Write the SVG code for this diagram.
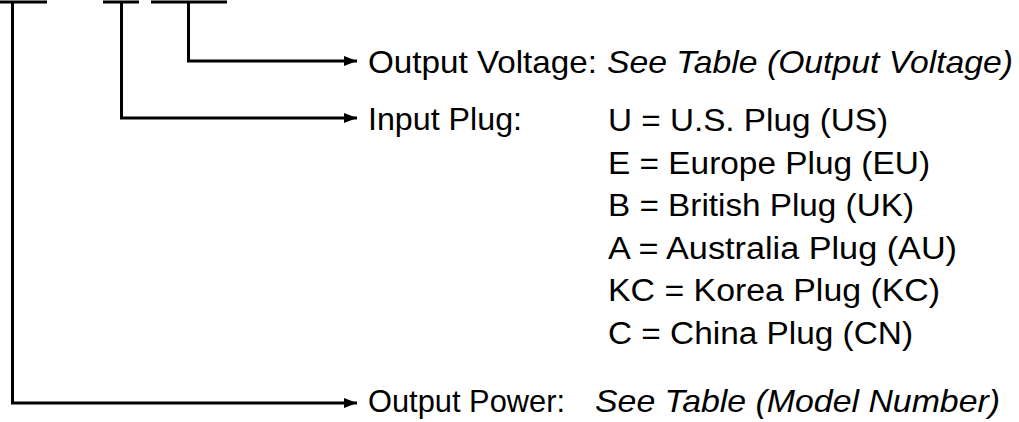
<svg xmlns="http://www.w3.org/2000/svg" width="1019" height="422" viewBox="0 0 1019 422">
<style>
.ln{fill:none;stroke:#000;stroke-width:3;stroke-linejoin:miter}
.t{font-family:"Liberation Sans",Arial,sans-serif;font-size:32px;fill:#000}
.p{font-family:"Liberation Sans",Arial,sans-serif;font-size:31px;fill:#000}
.i{font-style:italic}
</style>
<defs>
<marker id="ah" markerWidth="13" markerHeight="10" refX="13" refY="5" orient="auto" markerUnits="userSpaceOnUse">
<path d="M0,0 L13,5 L0,10 Z" fill="#000"/>
</marker>
</defs>
<rect width="1019" height="422" fill="#fff"/>
<g id="bars">
<line class="ln" x1="0" y1="2" x2="47" y2="2"/>
<line class="ln" x1="103" y1="2" x2="139" y2="2"/>
<line class="ln" x1="151" y1="2" x2="227" y2="2"/>
</g>
<g id="connectors">
<polyline class="ln" points="188.5,2 188.5,61 357,61" marker-end="url(#ah)"/>
<polyline class="ln" points="121.5,2 121.5,118 357,118" marker-end="url(#ah)"/>
<polyline class="ln" points="12.5,2 12.5,403 357,403" marker-end="url(#ah)"/>
</g>
<g id="output-voltage">
<text class="t" x="368" y="73" textLength="229" lengthAdjust="spacingAndGlyphs">Output Voltage:</text>
<text class="t i" x="607" y="73" textLength="406" lengthAdjust="spacingAndGlyphs">See Table (Output Voltage)</text>
</g>
<g id="input-plug">
<text class="t" x="368" y="130" textLength="154" lengthAdjust="spacingAndGlyphs">Input Plug:</text>
<text class="p" x="608" y="131" textLength="280" lengthAdjust="spacingAndGlyphs">U = U.S. Plug (US)</text>
<text class="p" x="608" y="174" textLength="322" lengthAdjust="spacingAndGlyphs">E = Europe Plug (EU)</text>
<text class="p" x="608" y="216" textLength="306" lengthAdjust="spacingAndGlyphs">B = British Plug (UK)</text>
<text class="p" x="608" y="259" textLength="349" lengthAdjust="spacingAndGlyphs">A = Australia Plug (AU)</text>
<text class="p" x="608" y="301" textLength="332" lengthAdjust="spacingAndGlyphs">KC = Korea Plug (KC)</text>
<text class="p" x="608" y="344" textLength="305" lengthAdjust="spacingAndGlyphs">C = China Plug (CN)</text>
</g>
<g id="output-power">
<text class="t" x="368" y="412" textLength="197" lengthAdjust="spacingAndGlyphs">Output Power:</text>
<text class="t i" x="595" y="412" textLength="405" lengthAdjust="spacingAndGlyphs">See Table (Model Number)</text>
</g>
</svg>
